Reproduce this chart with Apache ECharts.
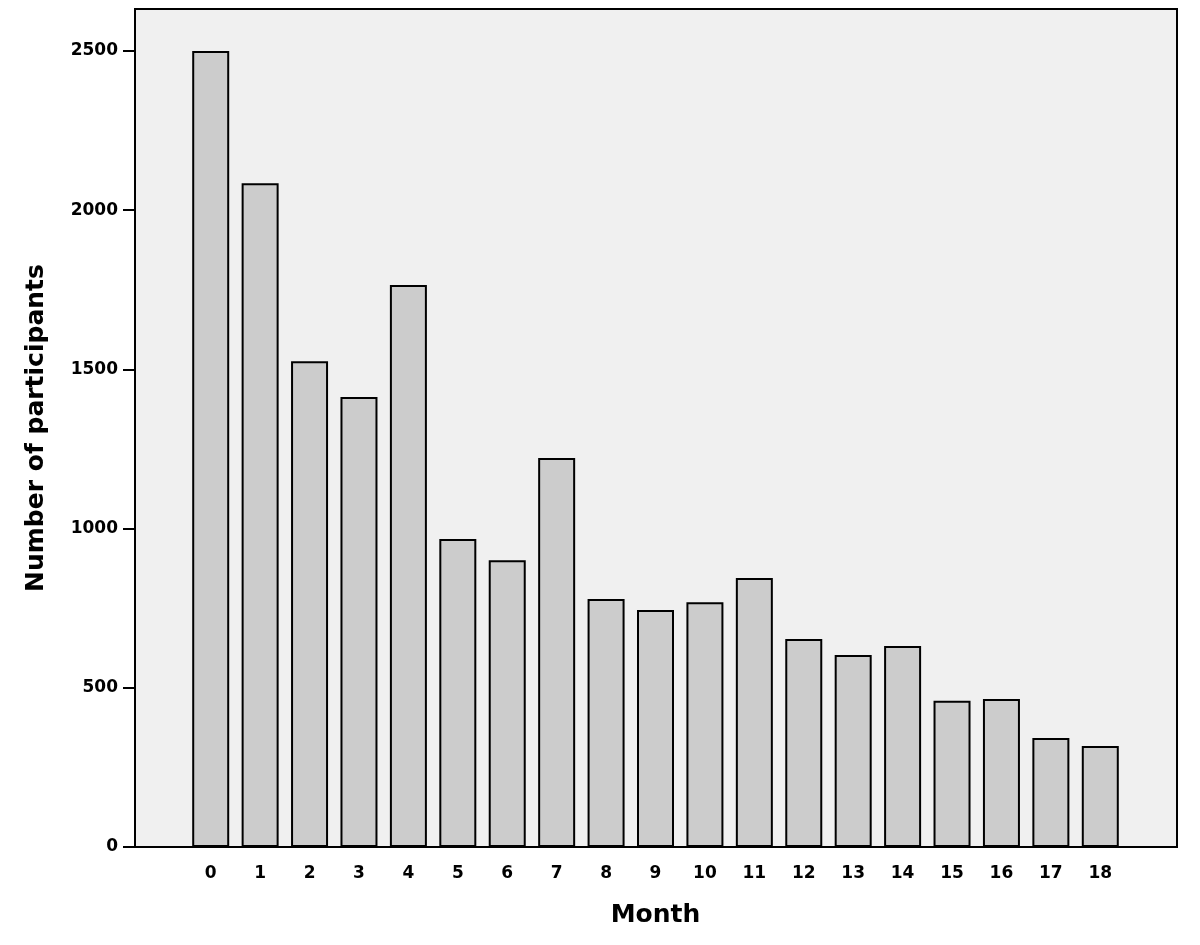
<!DOCTYPE html>
<html>
<head>
<meta charset="utf-8">
<script src="https://cdn.jsdelivr.net/npm/echarts@6/dist/echarts.min.js"></script>
<style>
  html, body { margin: 0; padding: 0; background: #fff; }
  #chart { width: 1200px; height: 945px; }
</style>
</head>
<body>
<div id="chart"></div>
<script>
const months = ['0', '1', '2', '3', '4', '5', '6', '7', '8', '9', '10', '11', '12', '13', '14', '15', '16', '17', '18'];
const participants = [2500, 2085, 1526, 1413, 1765, 967, 901, 1222, 779, 744, 769, 845, 653, 603, 631, 459, 465, 342, 317];
const yTicks = [0, 500, 1000, 1500, 2000, 2500];

const fontFamily = '"DejaVu Sans", sans-serif';
const yMax = 2632;

const chart = echarts.init(document.getElementById('chart'));

chart.setOption({
  backgroundColor: '#fff',
  animation: false,
  grid: [{
    // frame with grey background
    left: 135,
    right: 23,
    top: 9,
    bottom: 98,
    show: true,
    backgroundColor: '#f0f0f0',
    borderColor: '#000',
    borderWidth: 2
  }, {
    // inner area where the bars are laid out
    left: 186,
    right: 75,
    top: 9,
    bottom: 98
  }],
  xAxis: [{
    type: 'value',
    gridIndex: 0,
    show: false
  }, {
    type: 'category',
    gridIndex: 1,
    data: months,
    name: 'Month',
    nameLocation: 'middle',
    nameGap: 56,
    nameTextStyle: {
      fontFamily: fontFamily,
      fontWeight: 'bold',
      fontSize: 25,
      color: '#000'
    },
    axisLine: { show: false },
    axisTick: {
      alignWithLabel: true,
      length: 12,
      lineStyle: { color: '#000', width: 2 }
    },
    axisLabel: {
      fontFamily: fontFamily,
      fontWeight: 'bold',
      fontSize: 17,
      color: '#000',
      margin: 18
    }
  }],
  yAxis: [{
    type: 'value',
    gridIndex: 0,
    min: 0,
    max: yMax,
    name: 'Number of participants',
    nameLocation: 'middle',
    nameGap: 86,
    nameTextStyle: {
      fontFamily: fontFamily,
      fontWeight: 'bold',
      fontSize: 25,
      color: '#000'
    },
    splitLine: { show: false },
    axisLine: { show: true, lineStyle: { color: '#000', width: 2 } },
    axisTick: {
      show: true,
      length: 12,
      customValues: yTicks,
      lineStyle: { color: '#000', width: 2 }
    },
    axisLabel: {
      customValues: yTicks,
      formatter: v => String(v),
      fontFamily: fontFamily,
      fontWeight: 'bold',
      fontSize: 17,
      color: '#000',
      margin: 17
    }
  }, {
    type: 'value',
    gridIndex: 1,
    min: 0,
    max: yMax,
    show: false
  }],
  series: [{
    name: 'Participants',
    type: 'bar',
    xAxisIndex: 1,
    yAxisIndex: 1,
    barWidth: 37,
    data: participants,
    itemStyle: {
      color: '#cccccc',
      borderColor: '#000',
      borderWidth: 2
    }
  }]
});
</script>
</body>
</html>
